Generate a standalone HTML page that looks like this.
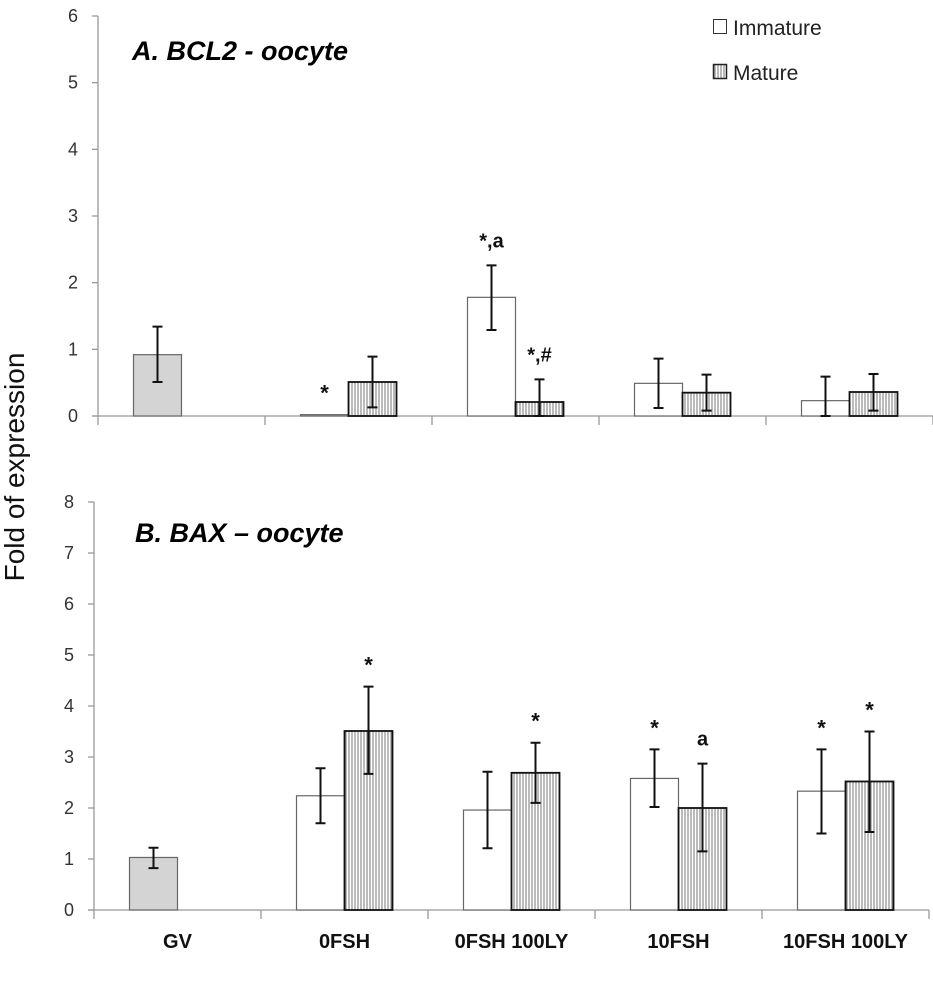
<!DOCTYPE html>
<html><head><meta charset="utf-8"><style>
body{margin:0;background:#fff;}
svg text{font-family:"Liberation Sans",sans-serif;}
</style></head><body>
<svg id="chart" width="933" height="977" xmlns="http://www.w3.org/2000/svg">
<defs>
<pattern id="hatch" width="3" height="10" patternUnits="userSpaceOnUse">
<rect width="3" height="10" fill="#fff"/><line x1="1" y1="0" x2="1" y2="10" stroke="#777" stroke-width="1"/>
</pattern>
</defs>
<text x="24" y="467" transform="rotate(-90 24 467)" font-size="28" text-anchor="middle" fill="#111">Fold of expression</text>
<text x="132" y="60" font-size="27" font-weight="bold" font-style="italic">A. BCL2 - oocyte</text>
<text x="135" y="542" font-size="27" font-weight="bold" font-style="italic">B. BAX – oocyte</text>
<rect x="713.5" y="19.5" width="13" height="14" fill="#fff" stroke="#333"/>
<text x="733" y="35" font-size="21" fill="#222">Immature</text>
<rect x="713.5" y="64.5" width="13" height="14" fill="url(#hatch)" stroke="#222" stroke-width="1.5"/>
<text x="733" y="80" font-size="21" fill="#222">Mature</text>
<g id="g"></g>
</svg>
<script>
const categories = ["GV","0FSH","0FSH 100LY","10FSH","10FSH 100LY"];
const bclImm = [0.92, 0.02, 1.78, 0.49, 0.23];
const bclImmLo = [0.51, 0.02, 1.29, 0.12, 0];
const bclImmHi = [1.34, 0.02, 2.26, 0.86, 0.59];
const bclMat = [null, 0.51, 0.21, 0.35, 0.36];
const bclMatLo = [null, 0.13, 0, 0.08, 0.08];
const bclMatHi = [null, 0.89, 0.55, 0.62, 0.63];
const baxImm = [1.03, 2.24, 1.96, 2.58, 2.33];
const baxImmLo = [0.82, 1.70, 1.21, 2.02, 1.50];
const baxImmHi = [1.22, 2.78, 2.71, 3.15, 3.15];
const baxMat = [null, 3.51, 2.69, 2.00, 2.52];
const baxMatLo = [null, 2.67, 2.10, 1.15, 1.53];
const baxMatHi = [null, 4.38, 3.28, 2.87, 3.50];
const bclImmNote = ["", "*", "*,a", "", ""];
const bclMatNote = ["", "", "*,#", "", ""];
const baxImmNote = ["", "", "", "*", "*"];
const baxMatNote = ["", "*", "*", "a", "*"];
const bclTicks = [0,1,2,3,4,5,6];
const baxTicks = [0,1,2,3,4,5,6,7,8];

const NS="http://www.w3.org/2000/svg";
const g=document.getElementById('g');
function mk(t,a){const e=document.createElementNS(NS,t);for(const k in a)e.setAttribute(k,a[k]);g.appendChild(e);return e;}

function panel(p){
  const y=v=>p.y0-(v-p.min)/(p.max-p.min)*(p.y0-p.yTop);
  const gw=167;
  const cx=i=>p.x0+gw*i+gw/2;
  let ax=mk('line',{x1:p.x0,y1:p.yTop,x2:p.x0,y2:p.y0,stroke:'#999','stroke-width':1.3});
  
  
  let xa=mk('line',{x1:p.x0-6,y1:p.y0,x2:p.x0+gw*5,y2:p.y0,stroke:'#999','stroke-width':1.3});
  
  
  p.ticks.forEach(t=>{
    const ty=y(t);
    let tl=mk('line',{x1:p.x0-6,y1:ty,x2:p.x0,y2:ty,stroke:'#999','stroke-width':1.3});
    
    
    let tx=mk('text',{x:p.x0-20,y:ty+6,'font-size':18,'text-anchor':'end',fill:'#333'});
    tx.textContent=t;
    
    
  });
  for(let i=0;i<=5;i++){
    let l=mk('line',{x1:p.x0+gw*i,y1:p.y0,x2:p.x0+gw*i,y2:p.y0+9,stroke:'#999','stroke-width':1.3});
    
    
  }
  function bar(i,v,lo,hi,note,mature){
    if(v===null)return;
    const x=mature?cx(i):cx(i)-48;
    const top=y(v);
    const fill=mature?'url(#hatch)':(i===0?'#d4d4d4':'#fff');
    let r=mk('rect',{x:x,y:top,width:48,height:Math.max(p.y0-top,0.5),fill:fill,stroke:mature?'#111':'#666','stroke-width':mature?1.8:1.2});
    
    
    const ex=x+24;
    if(hi-lo>0.001){
      const e=mk('path',{d:`M${ex},${y(hi)}V${y(lo)}M${ex-5},${y(hi)}H${ex+5}M${ex-5},${y(lo)}H${ex+5}`,stroke:'#111','stroke-width':2,fill:'none'});
      
      
    }
    if(note){
      const t=mk('text',{x:ex,y:y(hi)-(note==='*'?14:18),'font-size':note==='*'?22:20,'font-weight':'bold','text-anchor':'middle',fill:'#111'});
      t.textContent=note;
      
      
    }
  }
  for(let i=0;i<5;i++){
    bar(i,p.imm[i],p.immLo[i],p.immHi[i],p.immN[i],false);
    bar(i,p.mat[i],p.matLo[i],p.matHi[i],p.matN[i],true);
  }
  if(p.labels){
    categories.forEach((c,i)=>{
      const t=mk('text',{x:cx(i),y:948,'font-size':20,'font-weight':'bold','text-anchor':'middle',fill:'#111'});
      t.textContent=c;
      
      
    });
  }
}
panel({id:'bcl2',x0:98,y0:416,yTop:16,min:0,max:6,ticks:bclTicks,imm:bclImm,immLo:bclImmLo,immHi:bclImmHi,mat:bclMat,matLo:bclMatLo,matHi:bclMatHi,immN:bclImmNote,matN:bclMatNote,labels:false});
panel({id:'bax',x0:94,y0:910,yTop:502,min:0,max:8,ticks:baxTicks,imm:baxImm,immLo:baxImmLo,immHi:baxImmHi,mat:baxMat,matLo:baxMatLo,matHi:baxMatHi,immN:baxImmNote,matN:baxMatNote,labels:true});
</script>
</body></html>
